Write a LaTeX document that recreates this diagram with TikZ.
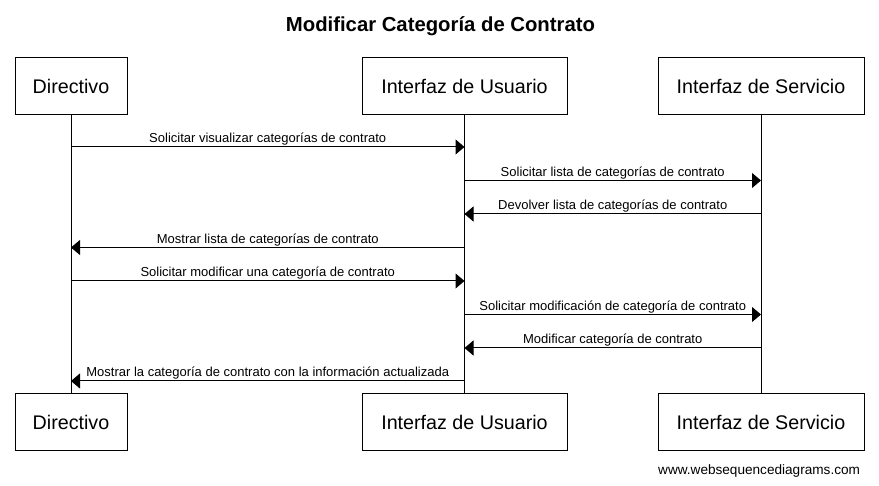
\documentclass[tikz,border=0pt]{standalone}
\usepackage{fontspec}
\setmainfont{Liberation Sans}
\usetikzlibrary{arrows.meta}

\begin{document}
\begin{tikzpicture}[
  x=1pt, y=-1pt,
  actor/.style={draw, line width=1pt, minimum height=57pt, inner sep=0pt, font=\fontsize{19.7}{24}\selectfont},
  life/.style={line width=1pt},
  msg/.style={-{Triangle[length=9pt, width=15pt]}, line width=1pt},
  lbl/.style={anchor=base, yshift=4pt, inner sep=0pt, font=\fontsize{13}{15}\selectfont}
]
  \useasboundingbox (0,0) rectangle (879,486);
  \node[anchor=base, font=\bfseries\fontsize{20.3}{24}\selectfont] (title) at (440.5,32) {Modificar Categoría de Contrato};

  \node[actor, minimum width=112pt] (dirT) at (71,86) {Directivo};
  \node[actor, minimum width=205pt] (usrT) at (464.5,86) {Interfaz de Usuario};
  \node[actor, minimum width=206pt] (srvT) at (761,86) {Interfaz de Servicio};
  \node[actor, minimum width=112pt] (dirB) at (71,422.5) {Directivo};
  \node[actor, minimum width=205pt] (usrB) at (464.5,422.5) {Interfaz de Usuario};
  \node[actor, minimum width=206pt] (srvB) at (761,422.5) {Interfaz de Servicio};

  \draw[life] (dirT) -- (dirB);
  \draw[life] (usrT) -- (usrB);
  \draw[life] (srvT) -- (srvB);

  \foreach \i/\y in {1/147,2/180.5,3/214,4/247.5,5/281,6/314.5,7/348,8/381} {
    \coordinate (dir\i) at (dirT |- 0,\y);
    \coordinate (usr\i) at (usrT |- 0,\y);
    \coordinate (srv\i) at (srvT |- 0,\y);
  }

  \draw[msg] (dir1) -- node[lbl] {Solicitar visualizar categorías de contrato} (usr1);
  \draw[msg] (usr2) -- node[lbl] {Solicitar lista de categorías de contrato} (srv2);
  \draw[msg] (srv3) -- node[lbl] {Devolver lista de categorías de contrato} (usr3);
  \draw[msg] (usr4) -- node[lbl] {Mostrar lista de categorías de contrato} (dir4);
  \draw[msg] (dir5) -- node[lbl] {Solicitar modificar una categoría de contrato} (usr5);
  \draw[msg] (usr6) -- node[lbl] {Solicitar modificación de categoría de contrato} (srv6);
  \draw[msg] (srv7) -- node[lbl] {Modificar categoría de contrato} (usr7);
  \draw[msg] (usr8) -- node[lbl] {Mostrar la categoría de contrato con la información actualizada} (dir8);

  \node[anchor=base west, inner sep=0pt, font=\fontsize{13.6}{16}\selectfont] (site) at (658,474.5) {www.websequencediagrams.com};
\end{tikzpicture}
\end{document}
